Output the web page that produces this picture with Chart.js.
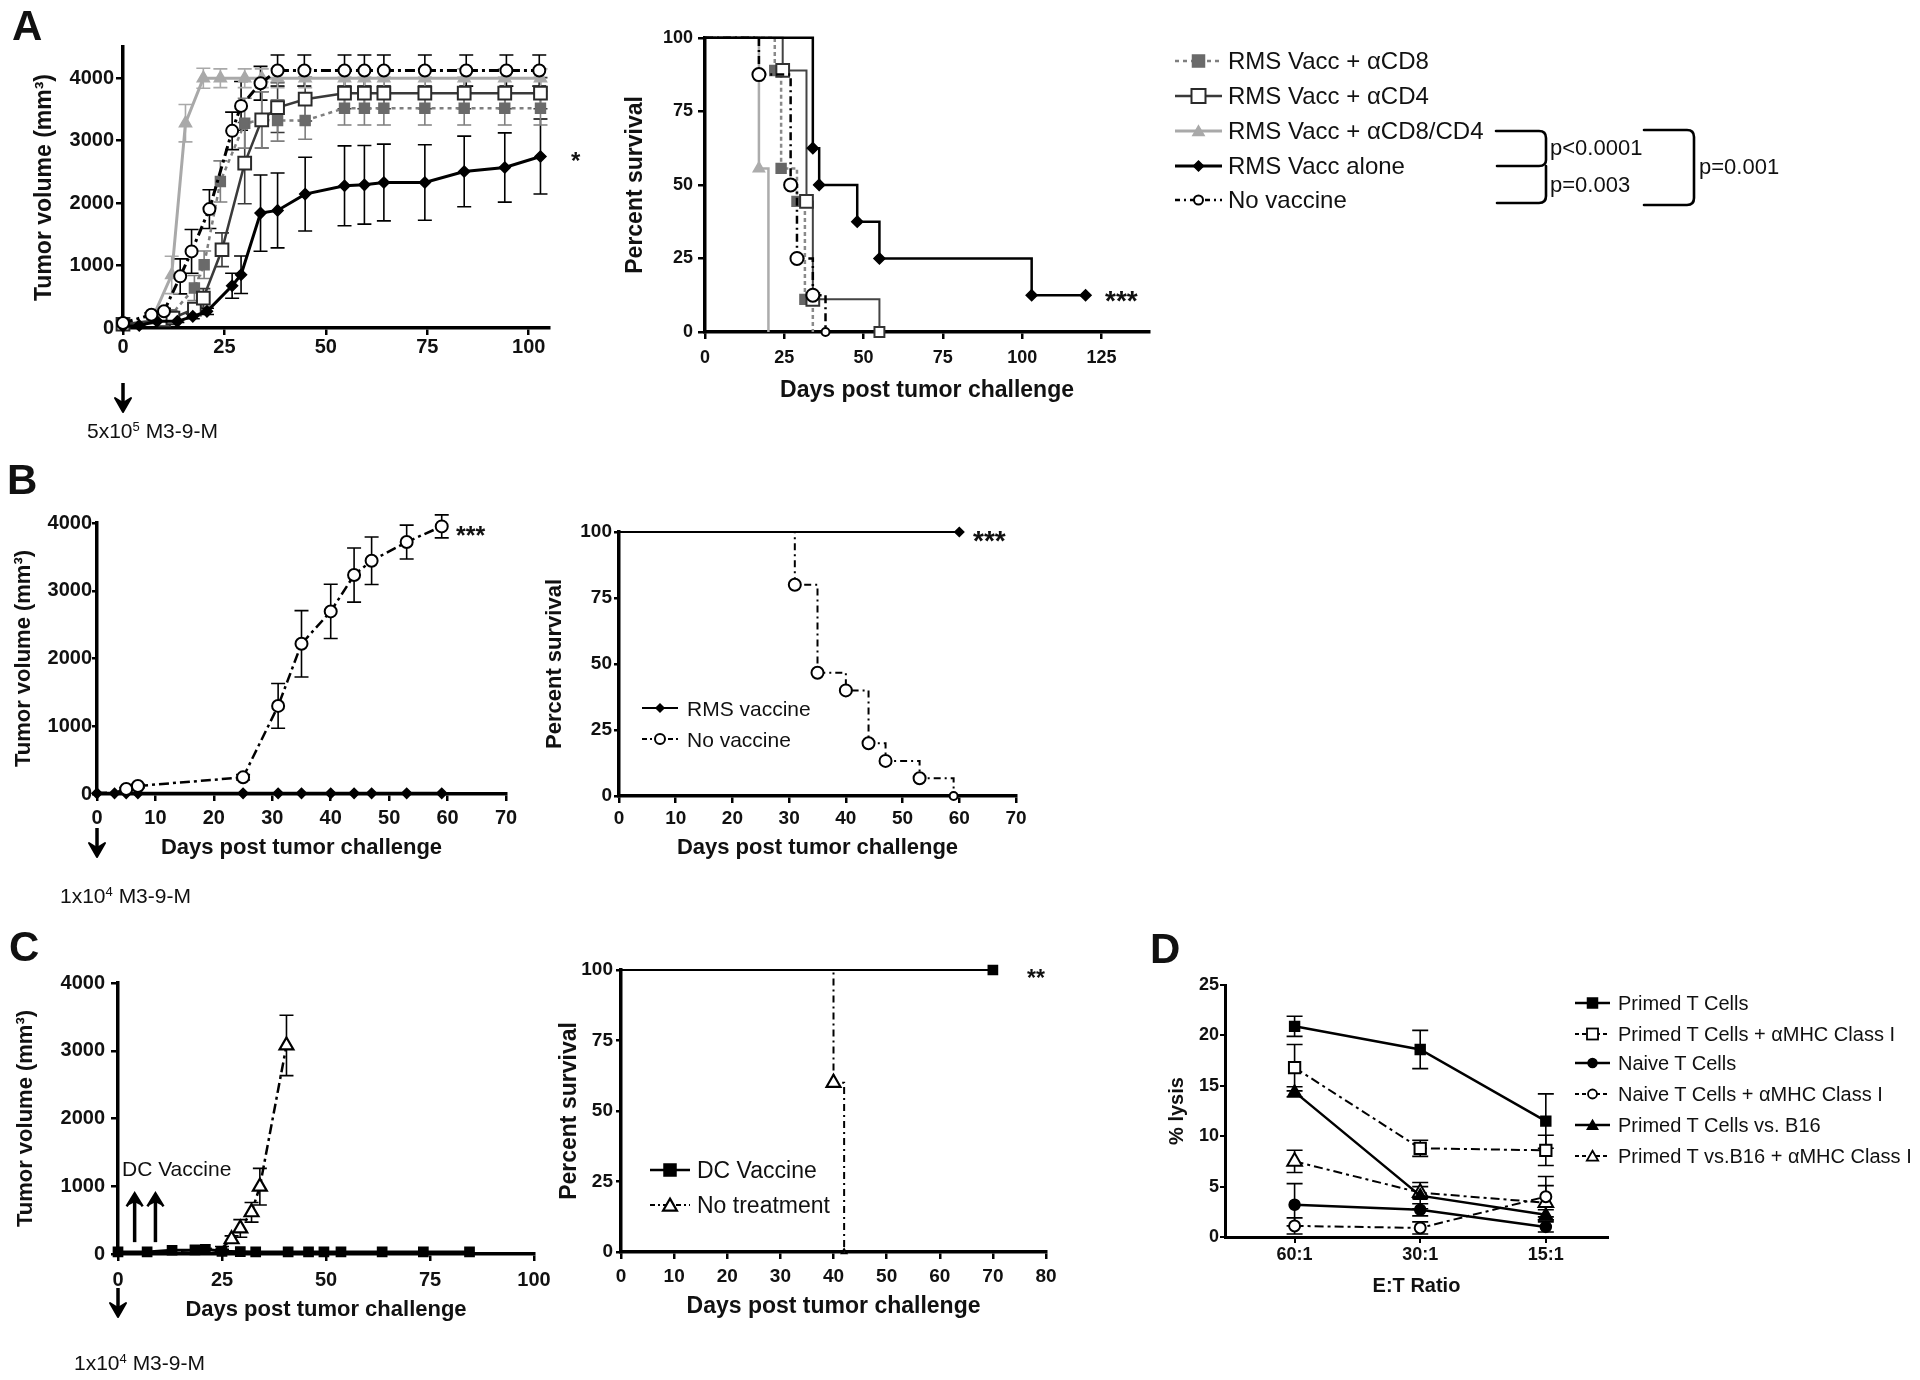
<!DOCTYPE html>
<html><head><meta charset="utf-8">
<script src="https://cdn.jsdelivr.net/npm/chart.js@4.4.1/dist/chart.umd.min.js"></script>
<style>
html,body{margin:0;padding:0;background:#fff;}
#page{position:relative;width:1920px;height:1380px;overflow:hidden;background:#fff;}
canvas{position:absolute;}
.t{position:absolute;line-height:1;white-space:nowrap;color:#111;font-family:"Liberation Sans",Arial,Helvetica,sans-serif;}
.t sup{font-size:0.62em;vertical-align:0.5em;line-height:0;}
</style></head><body><div id="page">
<canvas id="cA1"></canvas><canvas id="cA2"></canvas>
<canvas id="cB1"></canvas><canvas id="cB2"></canvas>
<canvas id="cC1"></canvas><canvas id="cC2"></canvas>
<canvas id="cD"></canvas>
</div>
<script>
const FONT = '"Liberation Sans", Arial, Helvetica, sans-serif';

// ================= DATA =================
// Panel A – tumor volume (mm3) vs days
const aDaysCD8 = [0, 10, 11.9, 17.6, 20, 24, 30, 34.2, 38.1, 44.9, 54.6, 59.5, 64.3, 74.4, 84.1, 94.1, 102.9];
const aVolCD8  = [60, 120, 213, 640, 1013, 2347, 3280, 3333, 3323, 3323, 3520, 3520, 3520, 3520, 3520, 3520, 3520];
const aErrCD8  = [0, 30, 60, 200, 220, 330, 400, 450, 330, 300, 270, 270, 270, 270, 270, 270, 270];

const aDaysCD4 = [0, 10, 12.3, 17.6, 19.8, 24.4, 30, 34.2, 38.1, 44.9, 54.6, 59.5, 64.3, 74.4, 84.1, 94.1, 102.9];
const aVolCD4  = [60, 130, 160, 304, 480, 1253, 2640, 3333, 3530, 3664, 3760, 3760, 3760, 3760, 3760, 3760, 3760];
const aErrCD4  = [0, 30, 40, 80, 150, 270, 650, 450, 400, 350, 250, 250, 250, 250, 250, 250, 250];

const aDaysCD8CD4 = [0, 7, 12, 15.4, 19.8, 24, 30, 34.2, 38.1, 44.9, 54.6, 59.5, 64.3, 74.4, 84.1, 94.1, 102.9];
const aVolCD8CD4  = [50, 120, 850, 3280, 4000, 4000, 4000, 4000, 4000, 4000, 4000, 4000, 4000, 4000, 4000, 4000, 4000];
const aErrCD8CD4  = [0, 40, 300, 300, 160, 150, 150, 150, 150, 150, 150, 150, 150, 150, 150, 150, 150];

const aDaysAlone = [0, 4, 8.4, 13.4, 17.2, 20.7, 26.9, 29.1, 33.9, 38.1, 44.9, 54.6, 59.5, 64.3, 74.4, 84.1, 94.1, 102.9];
const aVolAlone  = [30, 40, 107, 107, 187, 267, 677, 853, 1840, 1883, 2144, 2277, 2293, 2330, 2330, 2507, 2570, 2747];
const aErrAlone  = [0, 0, 20, 20, 40, 50, 200, 300, 610, 600, 590, 640, 630, 615, 605, 565, 555, 600];

const aDaysNoVac = [0, 7, 10.1, 14.1, 16.9, 21.3, 26.9, 29.1, 33.9, 38.1, 44.7, 54.6, 59.5, 64.3, 74.4, 84.6, 94.5, 102.6];
const aVolNoVac  = [80, 213, 267, 827, 1227, 1904, 3157, 3557, 3920, 4123, 4123, 4123, 4123, 4123, 4123, 4123, 4123, 4123];
const aErrNoVac  = [0, 30, 50, 280, 350, 310, 300, 390, 270, 250, 250, 250, 250, 250, 250, 250, 250, 250];

const aTumorXTicks = [0, 25, 50, 75, 100];
const aTumorYTicks = [0, 1000, 2000, 3000, 4000];

// Panel A – survival (%)
const sADaysCD8 = [0, 22, 24, 29, 31.5, 34];
const sASurvCD8 = [100, 88.9, 55.6, 44.4, 11.1, 0];
const sADaysCD4 = [0, 24.5, 32, 34, 55];
const sASurvCD4 = [100, 88.9, 44.4, 11.1, 0];
const sADaysCD8CD4 = [0, 17, 20];
const sASurvCD8CD4 = [100, 55.6, 0];
const sADaysAlone = [0, 34, 36, 48, 55, 103, 120];
const sASurvAlone = [100, 62.5, 50, 37.5, 25, 12.5, 12.5];
const sADaysNoVac = [0, 17, 27, 29, 34, 38];
const sASurvNoVac = [100, 87.5, 50, 25, 12.5, 0];
const sAXTicks = [0, 25, 50, 75, 100, 125];
const survYTicks = [0, 25, 50, 75, 100];

const aLegendLabels = ['RMS Vacc + \u03b1CD8', 'RMS Vacc + \u03b1CD4', 'RMS Vacc + \u03b1CD8/CD4', 'RMS Vacc alone', 'No vaccine'];
const aPValues = ['p<0.0001', 'p=0.003', 'p=0.001'];

// Panel B
const bDays = [0, 3, 5, 7, 25, 31, 35, 40, 44, 47, 53, 59];
const bVolRMS = [10, 10, 10, 10, 10, 10, 10, 10, 10, 10, 10, 10];
const bVolNoVac = [15, 20, 74, 118, 246, 1300, 2217, 2695, 3232, 3443, 3719, 3950];
const bErrNoVac = [0, 0, 20, 25, 40, 330, 490, 400, 400, 350, 250, 170];
const bXTicks = [0, 10, 20, 30, 40, 50, 60, 70];
const bYTicks = [0, 1000, 2000, 3000, 4000];
const sBDaysRMS = [0, 60];
const sBSurvRMS = [100, 100];
const sBDaysNoVac = [0, 31, 35, 40, 44, 47, 53, 59];
const sBSurvNoVac = [100, 80, 46.7, 40, 20, 13.3, 6.7, 0];
const bLegendLabels = ['RMS vaccine', 'No vaccine'];

// Panel C
const cDaysDC = [0, 7, 13, 18.5, 21, 25, 29.4, 33.1, 40.9, 45.8, 49.5, 53.6, 63.5, 73.4, 84.5];
const cVolDC  = [30, 30, 55, 60, 70, 40, 35, 30, 30, 30, 30, 30, 30, 30, 30];
const cDaysNT = [0, 7, 13, 18.5, 21, 25, 27.3, 29.4, 32.1, 34.1, 40.5];
const cVolNT  = [20, 25, 40, 60, 70, 90, 218, 378, 616, 994, 3078];
const cErrNT  = [0, 0, 0, 0, 0, 20, 50, 130, 145, 270, 445];
const cVaccineDays = [4, 9];
const cXTicks = [0, 25, 50, 75, 100];
const cYTicks = [0, 1000, 2000, 3000, 4000];
const sCDaysDC = [0, 70];
const sCSurvDC = [100, 100];
const sCDaysNT = [0, 40, 42];
const sCSurvNT = [100, 60, 0];
const sCXTicks = [0, 10, 20, 30, 40, 50, 60, 70, 80];
const cLegendLabels = ['DC Vaccine', 'No treatment'];

// Panel D – % lysis
const dRatios = ['60:1', '30:1', '15:1'];
const dPos = [0, 1, 2];
const dPrimed = [20.9, 18.6, 11.5];       const dPrimedErr = [1.0, 1.9, 2.7];
const dPrimedMHC = [16.8, 8.8, 8.6];      const dPrimedMHCErr = [2.3, 0.8, 1.5];
const dNaive = [3.2, 2.7, 1.0];           const dNaiveErr = [2.1, 0.6, 0.5];
const dNaiveMHC = [1.1, 0.9, 4.0];        const dNaiveMHCErr = [0.8, 0.6, 2.0];
const dB16 = [14.4, 4.1, 2.2];            const dB16Err = [0.5, 1.3, 0.5];
const dB16MHC = [7.5, 4.4, 3.4];          const dB16MHCErr = [1.1, 0.6, 1.7];
const dYTicks = [0, 5, 10, 15, 20, 25];
const dLabels = ['Primed T Cells', 'Primed T Cells + \u03b1MHC Class I', 'Naive T Cells', 'Naive T Cells + \u03b1MHC Class I', 'Primed T Cells vs. B16', 'Primed T vs.B16 + \u03b1MHC Class I'];

// ================= HELPERS =================
const page = document.getElementById('page');

const errorBars = {
  id: 'errorBars',
  beforeDatasetsDraw(chart) {
    const ctx = chart.ctx, ys = chart.scales.y;
    chart.data.datasets.forEach((d, i) => {
      if (!d.errors) return;
      const meta = chart.getDatasetMeta(i);
      ctx.save();
      ctx.strokeStyle = d.errColor || d.borderColor;
      ctx.lineWidth = d.errWidth || 1.6;
      const cap = d.errCap || 7;
      meta.data.forEach((pt, j) => {
        const e = d.errors[j];
        if (!e) return;
        const v = d.data[j].y;
        const y1 = ys.getPixelForValue(v + e), y2 = ys.getPixelForValue(Math.max(v - e, 0));
        ctx.beginPath();
        ctx.moveTo(pt.x, y1); ctx.lineTo(pt.x, y2);
        ctx.moveTo(pt.x - cap, y1); ctx.lineTo(pt.x + cap, y1);
        ctx.moveTo(pt.x - cap, y2); ctx.lineTo(pt.x + cap, y2);
        ctx.stroke();
      });
      ctx.restore();
    });
  }
};

const vaccArrows = {
  id: 'vaccArrows',
  afterDatasetsDraw(chart, args, opts) {
    if (!opts || !opts.days) return;
    const ctx = chart.ctx, xs = chart.scales.x, ys = chart.scales.y;
    ctx.save();
    ctx.strokeStyle = '#000'; ctx.fillStyle = '#000'; ctx.lineWidth = 3.5;
    opts.days.forEach(d => {
      const x = xs.getPixelForValue(d);
      const yb = ys.getPixelForValue(opts.from), yt = ys.getPixelForValue(opts.to);
      ctx.beginPath(); ctx.moveTo(x, yb); ctx.lineTo(x, yt + 8); ctx.stroke();
      ctx.beginPath(); ctx.moveTo(x, yt); ctx.lineTo(x - 8, yt + 14); ctx.lineTo(x, yt + 10); ctx.lineTo(x + 8, yt + 14); ctx.closePath(); ctx.fill();
      ctx.lineWidth = 2.5;
      ctx.beginPath(); ctx.moveTo(x - 8, yt + 14); ctx.lineTo(x, yt + 1); ctx.lineTo(x + 8, yt + 14); ctx.stroke();
      ctx.lineWidth = 3.5;
    });
    ctx.restore();
  }
};

function xyData(xs, ys) { return xs.map((x, i) => ({x: x, y: ys[i]})); }

function makeAxis(o) {
  return {
    type: 'linear', min: o.min, max: o.max,
    afterBuildTicks: s => { s.ticks = o.ticks.map(v => ({value: v})); },
    afterFit: s => { if (s.isHorizontal()) s.height = o.size; else s.width = o.size; },
    grid: {display: true, drawOnChartArea: false, drawTicks: true, tickLength: o.tl, tickWidth: o.tw || 2.5, lineWidth: o.tw || 2.5, color: '#000'},
    border: {display: true, width: o.bw || 3.5, color: '#000'},
    ticks: {autoSkip: false, maxRotation: 0, minRotation: 0, padding: o.pad, color: '#111',
            font: {family: FONT, size: o.fs, weight: 'bold'}, callback: o.cb || (v => String(v))},
    title: o.title ? {display: true, text: o.title, color: '#111', font: {family: FONT, size: o.tfs, weight: 'bold'},
                      padding: {top: o.tp || 0, bottom: o.tp || 0}} : {display: false}
  };
}

function makeChart(id, g, datasets, xo, yo, pluginOpts) {
  const cv = document.getElementById(id);
  const left = g.l - g.yw, top = g.t - g.pt;
  const W = g.r - g.l + g.yw + g.pr, H = g.b - g.t + g.pt + g.xh;
  cv.width = W; cv.height = H;
  Object.assign(cv.style, {left: left + 'px', top: top + 'px', width: W + 'px', height: H + 'px'});
  xo.size = g.xh; yo.size = g.yw;
  return new Chart(cv, {
    type: 'line',
    data: {datasets: datasets},
    options: {
      responsive: false, maintainAspectRatio: false, animation: false, devicePixelRatio: 1, events: [],
      layout: {padding: {left: 0, top: g.pt, right: g.pr, bottom: 0}},
      scales: {x: makeAxis(xo), y: makeAxis(yo)},
      plugins: Object.assign({legend: {display: false}, tooltip: {enabled: false}, title: {display: false}}, pluginOpts || {})
    },
    plugins: [errorBars, vaccArrows]
  });
}

function ds(xs, ys, s) {
  return {
    data: xyData(xs, ys), fill: false, tension: 0, clip: false,
    borderColor: s.color, borderWidth: s.w, borderDash: s.dash || [],
    pointStyle: s.shape, pointRadius: s.r, pointBackgroundColor: s.fill,
    pointBorderColor: s.pc || s.color, pointBorderWidth: s.pw || 1.5,
    stepped: s.stepped || false, errors: s.errors, errColor: s.errColor, errCap: s.cap
  };
}
function radii(n, r, skip) { return Array.from({length: n}, (_, i) => (skip && skip.indexOf(i) >= 0) ? 0 : r); }

function addText(html, x, y, size, weight, align) {
  const d = document.createElement('div');
  d.className = 't';
  d.innerHTML = html;
  const tx = align === 'center' ? '-50%' : (align === 'right' ? '-100%' : '0');
  d.style.cssText = `left:${x}px;top:${y}px;font-size:${size}px;font-weight:${weight};transform:translate(${tx},-50%);`;
  page.appendChild(d);
}

function markerSVG(shape, cx, cy, r, fill, stroke, sw) {
  const a = `fill="${fill}" stroke="${stroke}" stroke-width="${sw}"`;
  if (shape === 'rect') return `<rect x="${cx - r}" y="${cy - r}" width="${2 * r}" height="${2 * r}" ${a}/>`;
  if (shape === 'circle') return `<circle cx="${cx}" cy="${cy}" r="${r}" ${a}/>`;
  if (shape === 'triangle') {
    const c = cy + r * 0.2;
    return `<polygon points="${cx},${c - r} ${cx + 0.866 * r},${c + 0.5 * r} ${cx - 0.866 * r},${c + 0.5 * r}" ${a}/>`;
  }
  if (shape === 'rectRot') return `<polygon points="${cx - r},${cy} ${cx},${cy - r} ${cx + r},${cy} ${cx},${cy + r}" ${a}/>`;
  return '';
}

function legendRow(x1, x2, yc, st, label, tx, fs) {
  const w = x2 - x1;
  const dash = (st.dash && st.dash.length) ? st.dash.join(',') : 'none';
  const svg = `<svg style="position:absolute;left:${x1}px;top:${yc - 12}px;overflow:visible" width="${w}" height="24">` +
    `<line x1="0" y1="12" x2="${w}" y2="12" stroke="${st.color}" stroke-width="${st.lw}" stroke-dasharray="${dash}"/>` +
    markerSVG(st.shape, w / 2, 12, st.mr, st.fill, st.pc || st.color, st.pw || 1.5) + `</svg>`;
  page.insertAdjacentHTML('beforeend', svg);
  addText(label, tx, yc, fs, 'normal');
}

// ================= STYLES =================
const DASHDOT = [10, 4, 3, 4];
const stA = {
  cd8:    {color: '#7f7f7f', w: 2.5, dash: [4, 4], shape: 'rect', r: 7, fill: '#6a6a6a', pc: '#6a6a6a'},
  cd4:    {color: '#3a3a3a', w: 2.5, shape: 'rect', r: 9, fill: '#ffffff', pc: '#2a2a2a', pw: 2},
  cd8cd4: {color: '#a9a9a9', w: 3, shape: 'triangle', r: 7, fill: '#a9a9a9', pc: '#a9a9a9'},
  alone:  {color: '#000000', w: 3, shape: 'rectRot', r: 5.5, fill: '#000000'},
  novac:  {color: '#000000', w: 3, dash: DASHDOT, shape: 'circle', r: 6, fill: '#ffffff', pw: 2}
};

// ================= PANEL A: tumor =================
makeChart('cA1', {l: 123, t: 47, r: 549, b: 328, yw: 103, pt: 20, pr: 30, xh: 45}, [
  ds(aDaysNoVac, aVolNoVac, Object.assign({}, stA.novac, {errors: aErrNoVac})),
  ds(aDaysAlone, aVolAlone, Object.assign({}, stA.alone, {errors: aErrAlone})),
  ds(aDaysCD4, aVolCD4, Object.assign({}, stA.cd4, {errors: aErrCD4})),
  ds(aDaysCD8, aVolCD8, Object.assign({}, stA.cd8, {errors: aErrCD8})),
  ds(aDaysCD8CD4, aVolCD8CD4, Object.assign({}, stA.cd8cd4, {errors: aErrCD8CD4}))
], {min: 0, max: 105, ticks: aTumorXTicks, tl: 7, pad: 0, fs: 20},
   {min: 0, max: 4500, ticks: aTumorYTicks, tl: 7, pad: 2, fs: 20, title: 'Tumor volume (mm\u00b3)', tfs: 23, tp: 11});

// ================= PANEL A: survival =================
makeChart('cA2', {l: 705, t: 37, r: 1149, b: 332, yw: 90, pt: 15, pr: 30, xh: 74}, [
  ds(sADaysNoVac, sASurvNoVac, {color: '#000', w: 2.5, dash: [8, 4, 2, 4], shape: 'circle', r: [0, 6.5, 6.5, 6.5, 6.5, 4], fill: '#fff', pw: 2, stepped: 'before'}),
  ds(sADaysAlone, sASurvAlone, {color: '#000', w: 2.5, shape: 'rectRot', r: radii(7, 5.5, [0]), fill: '#000', stepped: 'before'}),
  ds(sADaysCD4, sASurvCD4, {color: '#444', w: 2, shape: 'rect', r: [0, 9, 9, 9, 7], fill: '#fff', pc: '#333', pw: 2, stepped: 'before'}),
  ds(sADaysCD8, sASurvCD8, {color: '#8a8a8a', w: 2.5, dash: [4, 3], shape: 'rect', r: radii(6, 7, [0, 5]), fill: '#666', pc: '#666', stepped: 'before'}),
  ds(sADaysCD8CD4, sASurvCD8CD4, {color: '#acacac', w: 2.5, shape: 'triangle', r: radii(3, 6.5, [0, 2]), fill: '#acacac', pc: '#acacac', stepped: 'before'})
], {min: 0, max: 140, ticks: sAXTicks, tl: 7, pad: 8, fs: 18, title: 'Days post tumor challenge', tfs: 23, tp: 2},
   {min: 0, max: 100, ticks: survYTicks, tl: 7, pad: 5, fs: 18, title: 'Percent survival', tfs: 23, tp: 7});

// ================= PANEL B =================
makeChart('cB1', {l: 97, t: 523, r: 506, b: 794, yw: 92, pt: 15, pr: 30, xh: 70}, [
  ds(bDays, bVolNoVac, {color: '#000', w: 2.5, dash: DASHDOT, shape: 'circle', r: radii(12, 6, [0, 1]), fill: '#fff', pw: 2, errors: bErrNoVac}),
  ds(bDays, bVolRMS, {color: '#000', w: 3, shape: 'rectRot', r: 5, fill: '#000'})
], {min: 0, max: 70, ticks: bXTicks, tl: 7, pad: 5, fs: 20, title: 'Days post tumor challenge', tfs: 22, tp: 2.5},
   {min: 0, max: 4000, ticks: bYTicks, tl: 5, pad: 0, fs: 20, title: 'Tumor volume (mm\u00b3)', tfs: 22, tp: 6});

makeChart('cB2', {l: 619, t: 532, r: 1016, b: 796, yw: 84, pt: 15, pr: 30, xh: 68}, [
  ds(sBDaysRMS, sBSurvRMS, {color: '#000', w: 2, shape: 'rectRot', r: radii(2, 4.5, [0]), fill: '#000', stepped: 'before'}),
  ds(sBDaysNoVac, sBSurvNoVac, {color: '#000', w: 2, dash: [7, 4, 2, 4], shape: 'circle', r: [0, 6, 6, 6, 6, 6, 6, 4], fill: '#fff', pw: 2, stepped: 'before'})
], {min: 0, max: 70, ticks: bXTicks, tl: 7, pad: 4, fs: 19, title: 'Days post tumor challenge', tfs: 22, tp: 2.5},
   {min: 0, max: 100, ticks: survYTicks, tl: 5, pad: 2, fs: 19, title: 'Percent survival', tfs: 22, tp: 7});

// ================= PANEL C =================
makeChart('cC1', {l: 118, t: 980, r: 534, b: 1254, yw: 112, pt: 15, pr: 30, xh: 72}, [
  ds(cDaysNT, cVolNT, {color: '#000', w: 2.5, dash: DASHDOT, shape: 'triangle', r: radii(11, 8, [0, 1, 2, 3, 4, 5]), fill: '#fff', pw: 2.2, errors: cErrNT}),
  ds(cDaysDC, cVolDC, {color: '#000', w: 3, shape: 'rect', r: 6.5, fill: '#000'})
], {min: 0, max: 100, ticks: cXTicks, tl: 7, pad: 7, fs: 20, title: 'Days post tumor challenge', tfs: 22, tp: 3},
   {min: 0, max: 4000, ticks: cYTicks, tl: 7, pad: 6, fs: 20, title: 'Tumor volume (mm\u00b3)', tfs: 22, tp: 6.6},
   {vaccArrows: {days: cVaccineDays, from: 175, to: 910}});

makeChart('cC2', {l: 621, t: 970, r: 1046, b: 1252, yw: 71, pt: 15, pr: 30, xh: 71}, [
  ds(sCDaysDC, sCSurvDC, {color: '#000', w: 2, shape: 'rect', r: radii(2, 6.5, [0]), fill: '#000', stepped: 'before'}),
  ds(sCDaysNT, sCSurvNT, {color: '#000', w: 2, dash: [7, 4, 2, 4], shape: 'triangle', r: [0, 8, 2.5], fill: '#fff', pw: 2.2, stepped: 'before'})
], {min: 0, max: 80, ticks: sCXTicks, tl: 7, pad: 6.5, fs: 19, title: 'Days post tumor challenge', tfs: 23, tp: 2.5},
   {min: 0, max: 100, ticks: survYTicks, tl: 5, pad: 3, fs: 19, title: 'Percent survival', tfs: 23, tp: 6});

// ================= PANEL D =================
const stD = [
  {color: '#000', w: 2.5, shape: 'rect', r: 7, fill: '#000'},
  {color: '#000', w: 2, dash: [9, 4, 3, 4], shape: 'rect', r: 8, fill: '#fff', pw: 2},
  {color: '#000', w: 2.5, shape: 'circle', r: 5.5, fill: '#000'},
  {color: '#000', w: 2, dash: [9, 4, 3, 4], shape: 'circle', r: 5.5, fill: '#fff', pw: 2},
  {color: '#000', w: 2.5, shape: 'triangle', r: 7, fill: '#000'},
  {color: '#000', w: 2, dash: [9, 4, 3, 4], shape: 'triangle', r: 8.5, fill: '#fff', pw: 2}
];
const dSeries = [dPrimed, dPrimedMHC, dNaive, dNaiveMHC, dB16, dB16MHC];
const dErrs = [dPrimedErr, dPrimedMHCErr, dNaiveErr, dNaiveMHCErr, dB16Err, dB16MHCErr];
makeChart('cD', {l: 1225, t: 985, r: 1608, b: 1237, yw: 65, pt: 15, pr: 30, xh: 64},
  dSeries.map((s, i) => ds(dPos, s, Object.assign({}, stD[i], {errors: dErrs[i], cap: 8}))),
  {min: -0.554, max: 2.495, ticks: dPos, tl: 6, pad: 1.5, fs: 18, cb: v => dRatios[v], title: 'E:T Ratio', tfs: 20, tp: 2.3, bw: 3, tw: 2},
  {min: 0, max: 25, ticks: dYTicks, tl: 5, pad: 1, fs: 18, title: '% lysis', tfs: 20, tp: 5.3, bw: 3, tw: 2});

// ================= LEGENDS =================
const aLegY = [61, 96, 131, 166, 200];
const aLegSt = [
  {color: '#7f7f7f', lw: 2.5, dash: [4, 4], shape: 'rect', mr: 6, fill: '#6a6a6a', pc: '#6a6a6a'},
  {color: '#3a3a3a', lw: 2.5, shape: 'rect', mr: 7, fill: '#fff', pc: '#2a2a2a', pw: 2},
  {color: '#a9a9a9', lw: 3, shape: 'triangle', mr: 6.5, fill: '#a9a9a9', pc: '#a9a9a9'},
  {color: '#000', lw: 3, shape: 'rectRot', mr: 5, fill: '#000'},
  {color: '#000', lw: 2.5, dash: [5, 4, 2, 4], shape: 'circle', mr: 4.5, fill: '#fff', pw: 2}
];
aLegendLabels.forEach((lab, i) => legendRow(1175, 1222, aLegY[i], aLegSt[i], lab, 1228, 24));

const bLegY = [708, 739];
const bLegSt = [
  {color: '#000', lw: 2, shape: 'rectRot', mr: 4, fill: '#000'},
  {color: '#000', lw: 2, dash: [5, 3, 2, 3], shape: 'circle', mr: 5, fill: '#fff', pw: 2}
];
bLegendLabels.forEach((lab, i) => legendRow(642, 678, bLegY[i], bLegSt[i], lab, 687, 21));

const cLegY = [1170, 1205];
const cLegSt = [
  {color: '#000', lw: 2.5, shape: 'rect', mr: 6, fill: '#000'},
  {color: '#000', lw: 2, dash: [5, 3, 2, 3], shape: 'triangle', mr: 8, fill: '#fff', pw: 2.2}
];
cLegendLabels.forEach((lab, i) => legendRow(650, 690, cLegY[i], cLegSt[i], lab, 697, 23));

const dLegY = [1003, 1034, 1063, 1094, 1125, 1156];
const dLegSt = [
  {color: '#000', lw: 2.5, shape: 'rect', mr: 5, fill: '#000'},
  {color: '#000', lw: 2, dash: [4, 3], shape: 'rect', mr: 5.5, fill: '#fff', pw: 1.8},
  {color: '#000', lw: 2.5, shape: 'circle', mr: 4.5, fill: '#000'},
  {color: '#000', lw: 2, dash: [4, 3], shape: 'circle', mr: 4.5, fill: '#fff', pw: 1.8},
  {color: '#000', lw: 2.5, shape: 'triangle', mr: 6, fill: '#000'},
  {color: '#000', lw: 2, dash: [4, 3], shape: 'triangle', mr: 6.5, fill: '#fff', pw: 1.8}
];
dLabels.forEach((lab, i) => legendRow(1575, 1610, dLegY[i], dLegSt[i], lab, 1618, 20));

// ================= ANNOTATIONS (brackets, arrows, text) =================
function downArrow(x, y0, y1) {
  return `<line x1="${x}" y1="${y0}" x2="${x}" y2="${y1 - 8}" stroke="#000" stroke-width="3.5"/>` +
         `<polygon points="${x - 8},${y1 - 14} ${x},${y1 - 9} ${x + 8},${y1 - 14} ${x},${y1}" fill="#000" stroke="#000" stroke-width="2" stroke-linejoin="round"/>`;
}
page.insertAdjacentHTML('beforeend',
  `<svg style="position:absolute;left:0;top:0" width="1920" height="1380">` +
  `<g fill="none" stroke="#000" stroke-width="2.6" stroke-linecap="round">` +
  `<path d="M1496,131 H1539 Q1546,131 1546,138 V160 Q1546,166 1539,166 H1497"/>` +
  `<path d="M1546,166 V196 Q1546,203 1539,203 H1497"/>` +
  `<path d="M1644,130 H1687 Q1694,130 1694,137 V198 Q1694,205 1687,205 H1644"/>` +
  `</g>` +
  downArrow(123, 383, 412) + downArrow(97, 828, 857) + downArrow(118, 1288, 1317) +
  `</svg>`);

addText(aPValues[0], 1550, 148, 22, 'normal');
addText(aPValues[1], 1550, 185, 22, 'normal');
addText(aPValues[2], 1699, 167, 22, 'normal');

addText('A', 12, 26, 42, 'bold');
addText('B', 7, 480, 42, 'bold');
addText('C', 9, 947, 42, 'bold');
addText('D', 1150, 949, 42, 'bold');

addText('*', 571, 161, 24, 'bold');
addText('***', 1105, 301, 28, 'bold');
addText('***', 456, 535, 25, 'bold');
addText('***', 973, 541, 28, 'bold');
addText('**', 1027, 978, 23, 'bold');

addText('5x10<sup>5</sup> M3-9-M', 87, 430, 21, 'normal');
addText('1x10<sup>4</sup> M3-9-M', 60, 895, 21, 'normal');
addText('1x10<sup>4</sup> M3-9-M', 74, 1362, 21, 'normal');
addText('DC Vaccine', 122, 1168, 21, 'normal');
</script></body></html>
